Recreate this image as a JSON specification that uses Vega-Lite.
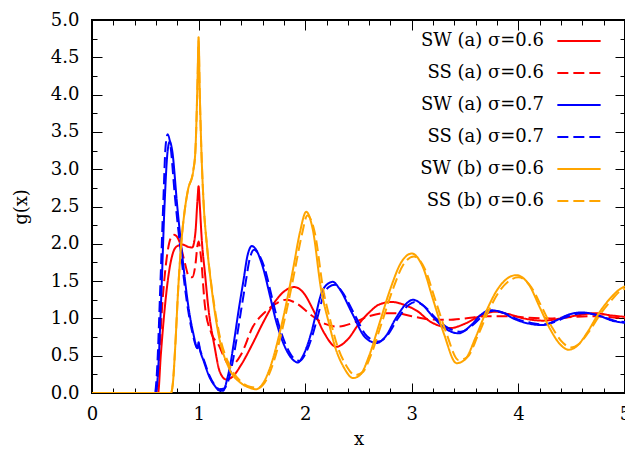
{
  "$schema": "https://vega.github.io/schema/vega-lite/v6.json",
  "width": 533,
  "height": 373,
  "autosize": {"type": "none"},
  "padding": {"left": 92, "top": 20, "right": 0, "bottom": 62},
  "background": "white",
  "config": {
    "view": {"stroke": "black", "strokeWidth": 2},
    "font": "DejaVu Serif"
  },
  "data": {"values": [
    {"s":"SW (a) σ=0.6","x":0,"y":0},{"s":"SW (a) σ=0.6","x":0.62,"y":0},{"s":"SW (a) σ=0.6","x":0.645,"y":0.5},{"s":"SW (a) σ=0.6","x":0.68,"y":1.1},{"s":"SW (a) σ=0.6","x":0.72,"y":1.6},{"s":"SW (a) σ=0.6","x":0.76,"y":1.88},{"s":"SW (a) σ=0.6","x":0.8,"y":1.97},{"s":"SW (a) σ=0.6","x":0.85,"y":1.99},{"s":"SW (a) σ=0.6","x":0.9,"y":1.96},{"s":"SW (a) σ=0.6","x":0.94,"y":1.95},{"s":"SW (a) σ=0.6","x":0.97,"y":2.15},{"s":"SW (a) σ=0.6","x":0.99,"y":2.6},{"s":"SW (a) σ=0.6","x":1.0,"y":2.77},{"s":"SW (a) σ=0.6","x":1.01,"y":2.55},{"s":"SW (a) σ=0.6","x":1.03,"y":2.05},{"s":"SW (a) σ=0.6","x":1.06,"y":1.6},{"s":"SW (a) σ=0.6","x":1.09,"y":1.16},{"s":"SW (a) σ=0.6","x":1.15,"y":0.62},{"s":"SW (a) σ=0.6","x":1.2,"y":0.28},{"s":"SW (a) σ=0.6","x":1.26,"y":0.18},{"s":"SW (a) σ=0.6","x":1.32,"y":0.22},{"s":"SW (a) σ=0.6","x":1.4,"y":0.38},{"s":"SW (a) σ=0.6","x":1.51,"y":0.67},{"s":"SW (a) σ=0.6","x":1.6,"y":0.93},{"s":"SW (a) σ=0.6","x":1.73,"y":1.25},{"s":"SW (a) σ=0.6","x":1.82,"y":1.38},{"s":"SW (a) σ=0.6","x":1.9,"y":1.42},{"s":"SW (a) σ=0.6","x":1.98,"y":1.35},{"s":"SW (a) σ=0.6","x":2.08,"y":1.1},{"s":"SW (a) σ=0.6","x":2.18,"y":0.8},{"s":"SW (a) σ=0.6","x":2.29,"y":0.62},{"s":"SW (a) σ=0.6","x":2.4,"y":0.72},{"s":"SW (a) σ=0.6","x":2.5,"y":0.92},{"s":"SW (a) σ=0.6","x":2.6,"y":1.08},{"s":"SW (a) σ=0.6","x":2.7,"y":1.19},{"s":"SW (a) σ=0.6","x":2.81,"y":1.22},{"s":"SW (a) σ=0.6","x":2.95,"y":1.17},{"s":"SW (a) σ=0.6","x":3.05,"y":1.1},{"s":"SW (a) σ=0.6","x":3.17,"y":0.96},{"s":"SW (a) σ=0.6","x":3.26,"y":0.9},{"s":"SW (a) σ=0.6","x":3.36,"y":0.87},{"s":"SW (a) σ=0.6","x":3.5,"y":0.93},{"s":"SW (a) σ=0.6","x":3.65,"y":1.04},{"s":"SW (a) σ=0.6","x":3.78,"y":1.09},{"s":"SW (a) σ=0.6","x":3.9,"y":1.06},{"s":"SW (a) σ=0.6","x":4.05,"y":1.0},{"s":"SW (a) σ=0.6","x":4.23,"y":0.97},{"s":"SW (a) σ=0.6","x":4.4,"y":1.0},{"s":"SW (a) σ=0.6","x":4.55,"y":1.04},{"s":"SW (a) σ=0.6","x":4.72,"y":1.07},{"s":"SW (a) σ=0.6","x":4.87,"y":1.04},{"s":"SW (a) σ=0.6","x":5.0,"y":1.02},

    {"s":"SS (a) σ=0.6","x":0,"y":0},{"s":"SS (a) σ=0.6","x":0.6,"y":0},{"s":"SS (a) σ=0.6","x":0.63,"y":0.5},{"s":"SS (a) σ=0.6","x":0.66,"y":1.2},{"s":"SS (a) σ=0.6","x":0.7,"y":1.8},{"s":"SS (a) σ=0.6","x":0.74,"y":2.08},{"s":"SS (a) σ=0.6","x":0.77,"y":2.12},{"s":"SS (a) σ=0.6","x":0.82,"y":2.03},{"s":"SS (a) σ=0.6","x":0.87,"y":1.75},{"s":"SS (a) σ=0.6","x":0.91,"y":1.56},{"s":"SS (a) σ=0.6","x":0.94,"y":1.55},{"s":"SS (a) σ=0.6","x":0.97,"y":1.72},{"s":"SS (a) σ=0.6","x":0.99,"y":1.98},{"s":"SS (a) σ=0.6","x":1.0,"y":2.03},{"s":"SS (a) σ=0.6","x":1.02,"y":1.85},{"s":"SS (a) σ=0.6","x":1.06,"y":1.16},{"s":"SS (a) σ=0.6","x":1.12,"y":0.8},{"s":"SS (a) σ=0.6","x":1.19,"y":0.64},{"s":"SS (a) σ=0.6","x":1.24,"y":0.48},{"s":"SS (a) σ=0.6","x":1.29,"y":0.37},{"s":"SS (a) σ=0.6","x":1.34,"y":0.4},{"s":"SS (a) σ=0.6","x":1.4,"y":0.52},{"s":"SS (a) σ=0.6","x":1.51,"y":0.89},{"s":"SS (a) σ=0.6","x":1.62,"y":1.08},{"s":"SS (a) σ=0.6","x":1.73,"y":1.2},{"s":"SS (a) σ=0.6","x":1.82,"y":1.25},{"s":"SS (a) σ=0.6","x":1.92,"y":1.2},{"s":"SS (a) σ=0.6","x":2.05,"y":1.05},{"s":"SS (a) σ=0.6","x":2.18,"y":0.93},{"s":"SS (a) σ=0.6","x":2.31,"y":0.89},{"s":"SS (a) σ=0.6","x":2.45,"y":0.94},{"s":"SS (a) σ=0.6","x":2.6,"y":1.03},{"s":"SS (a) σ=0.6","x":2.75,"y":1.07},{"s":"SS (a) σ=0.6","x":2.85,"y":1.07},{"s":"SS (a) σ=0.6","x":3.0,"y":1.03},{"s":"SS (a) σ=0.6","x":3.15,"y":0.99},{"s":"SS (a) σ=0.6","x":3.33,"y":0.98},{"s":"SS (a) σ=0.6","x":3.5,"y":1.0},{"s":"SS (a) σ=0.6","x":3.7,"y":1.03},{"s":"SS (a) σ=0.6","x":3.9,"y":1.03},{"s":"SS (a) σ=0.6","x":4.1,"y":1.01},{"s":"SS (a) σ=0.6","x":4.3,"y":1.0},{"s":"SS (a) σ=0.6","x":4.5,"y":1.02},{"s":"SS (a) σ=0.6","x":4.7,"y":1.03},{"s":"SS (a) σ=0.6","x":4.85,"y":1.02},{"s":"SS (a) σ=0.6","x":5.0,"y":1.0},

    {"s":"SW (a) σ=0.7","x":0,"y":0},{"s":"SW (a) σ=0.7","x":0.6,"y":0},{"s":"SW (a) σ=0.7","x":0.62,"y":0.3},{"s":"SW (a) σ=0.7","x":0.65,"y":1.3},{"s":"SW (a) σ=0.7","x":0.68,"y":2.5},{"s":"SW (a) σ=0.7","x":0.71,"y":3.25},{"s":"SW (a) σ=0.7","x":0.73,"y":3.37},{"s":"SW (a) σ=0.7","x":0.75,"y":3.27},{"s":"SW (a) σ=0.7","x":0.8,"y":2.5},{"s":"SW (a) σ=0.7","x":0.85,"y":1.8},{"s":"SW (a) σ=0.7","x":0.9,"y":1.2},{"s":"SW (a) σ=0.7","x":0.95,"y":0.8},{"s":"SW (a) σ=0.7","x":0.99,"y":0.6},{"s":"SW (a) σ=0.7","x":1.0,"y":0.68},{"s":"SW (a) σ=0.7","x":1.01,"y":0.6},{"s":"SW (a) σ=0.7","x":1.05,"y":0.42},{"s":"SW (a) σ=0.7","x":1.1,"y":0.22},{"s":"SW (a) σ=0.7","x":1.15,"y":0.1},{"s":"SW (a) σ=0.7","x":1.2,"y":0.03},{"s":"SW (a) σ=0.7","x":1.23,"y":0.03},{"s":"SW (a) σ=0.7","x":1.27,"y":0.2},{"s":"SW (a) σ=0.7","x":1.3,"y":0.4},{"s":"SW (a) σ=0.7","x":1.33,"y":0.67},{"s":"SW (a) σ=0.7","x":1.38,"y":1.15},{"s":"SW (a) σ=0.7","x":1.42,"y":1.5},{"s":"SW (a) σ=0.7","x":1.46,"y":1.85},{"s":"SW (a) σ=0.7","x":1.5,"y":1.97},{"s":"SW (a) σ=0.7","x":1.53,"y":1.94},{"s":"SW (a) σ=0.7","x":1.6,"y":1.7},{"s":"SW (a) σ=0.7","x":1.67,"y":1.3},{"s":"SW (a) σ=0.7","x":1.72,"y":1.0},{"s":"SW (a) σ=0.7","x":1.8,"y":0.65},{"s":"SW (a) σ=0.7","x":1.87,"y":0.47},{"s":"SW (a) σ=0.7","x":1.93,"y":0.41},{"s":"SW (a) σ=0.7","x":1.98,"y":0.5},{"s":"SW (a) σ=0.7","x":2.045,"y":0.75},{"s":"SW (a) σ=0.7","x":2.1,"y":1.05},{"s":"SW (a) σ=0.7","x":2.15,"y":1.33},{"s":"SW (a) σ=0.7","x":2.2,"y":1.45},{"s":"SW (a) σ=0.7","x":2.26,"y":1.49},{"s":"SW (a) σ=0.7","x":2.32,"y":1.4},{"s":"SW (a) σ=0.7","x":2.44,"y":1.07},{"s":"SW (a) σ=0.7","x":2.56,"y":0.75},{"s":"SW (a) σ=0.7","x":2.67,"y":0.67},{"s":"SW (a) σ=0.7","x":2.75,"y":0.75},{"s":"SW (a) σ=0.7","x":2.85,"y":1.0},{"s":"SW (a) σ=0.7","x":2.95,"y":1.2},{"s":"SW (a) σ=0.7","x":3.01,"y":1.25},{"s":"SW (a) σ=0.7","x":3.1,"y":1.18},{"s":"SW (a) σ=0.7","x":3.2,"y":1.02},{"s":"SW (a) σ=0.7","x":3.3,"y":0.88},{"s":"SW (a) σ=0.7","x":3.44,"y":0.8},{"s":"SW (a) σ=0.7","x":3.55,"y":0.9},{"s":"SW (a) σ=0.7","x":3.65,"y":1.05},{"s":"SW (a) σ=0.7","x":3.73,"y":1.11},{"s":"SW (a) σ=0.7","x":3.85,"y":1.08},{"s":"SW (a) σ=0.7","x":3.95,"y":1.0},{"s":"SW (a) σ=0.7","x":4.1,"y":0.93},{"s":"SW (a) σ=0.7","x":4.22,"y":0.91},{"s":"SW (a) σ=0.7","x":4.35,"y":0.97},{"s":"SW (a) σ=0.7","x":4.47,"y":1.05},{"s":"SW (a) σ=0.7","x":4.59,"y":1.08},{"s":"SW (a) σ=0.7","x":4.75,"y":1.04},{"s":"SW (a) σ=0.7","x":4.88,"y":0.97},{"s":"SW (a) σ=0.7","x":5.0,"y":0.94},

    {"s":"SS (a) σ=0.7","x":0,"y":0},{"s":"SS (a) σ=0.7","x":0.59,"y":0},{"s":"SS (a) σ=0.7","x":0.61,"y":0.3},{"s":"SS (a) σ=0.7","x":0.64,"y":1.4},{"s":"SS (a) σ=0.7","x":0.67,"y":2.6},{"s":"SS (a) σ=0.7","x":0.69,"y":3.3},{"s":"SS (a) σ=0.7","x":0.71,"y":3.47},{"s":"SS (a) σ=0.7","x":0.73,"y":3.38},{"s":"SS (a) σ=0.7","x":0.78,"y":2.6},{"s":"SS (a) σ=0.7","x":0.84,"y":1.8},{"s":"SS (a) σ=0.7","x":0.89,"y":1.22},{"s":"SS (a) σ=0.7","x":0.94,"y":0.82},{"s":"SS (a) σ=0.7","x":0.99,"y":0.6},{"s":"SS (a) σ=0.7","x":1.0,"y":0.66},{"s":"SS (a) σ=0.7","x":1.01,"y":0.6},{"s":"SS (a) σ=0.7","x":1.05,"y":0.44},{"s":"SS (a) σ=0.7","x":1.1,"y":0.24},{"s":"SS (a) σ=0.7","x":1.15,"y":0.11},{"s":"SS (a) σ=0.7","x":1.2,"y":0.05},{"s":"SS (a) σ=0.7","x":1.24,"y":0.06},{"s":"SS (a) σ=0.7","x":1.29,"y":0.22},{"s":"SS (a) σ=0.7","x":1.32,"y":0.42},{"s":"SS (a) σ=0.7","x":1.35,"y":0.67},{"s":"SS (a) σ=0.7","x":1.4,"y":1.12},{"s":"SS (a) σ=0.7","x":1.44,"y":1.47},{"s":"SS (a) σ=0.7","x":1.48,"y":1.8},{"s":"SS (a) σ=0.7","x":1.52,"y":1.92},{"s":"SS (a) σ=0.7","x":1.55,"y":1.89},{"s":"SS (a) σ=0.7","x":1.62,"y":1.67},{"s":"SS (a) σ=0.7","x":1.69,"y":1.27},{"s":"SS (a) σ=0.7","x":1.74,"y":0.98},{"s":"SS (a) σ=0.7","x":1.82,"y":0.64},{"s":"SS (a) σ=0.7","x":1.89,"y":0.47},{"s":"SS (a) σ=0.7","x":1.95,"y":0.43},{"s":"SS (a) σ=0.7","x":2.0,"y":0.52},{"s":"SS (a) σ=0.7","x":2.065,"y":0.76},{"s":"SS (a) σ=0.7","x":2.12,"y":1.04},{"s":"SS (a) σ=0.7","x":2.17,"y":1.3},{"s":"SS (a) σ=0.7","x":2.22,"y":1.42},{"s":"SS (a) σ=0.7","x":2.28,"y":1.45},{"s":"SS (a) σ=0.7","x":2.34,"y":1.37},{"s":"SS (a) σ=0.7","x":2.46,"y":1.06},{"s":"SS (a) σ=0.7","x":2.58,"y":0.76},{"s":"SS (a) σ=0.7","x":2.69,"y":0.69},{"s":"SS (a) σ=0.7","x":2.77,"y":0.77},{"s":"SS (a) σ=0.7","x":2.87,"y":1.0},{"s":"SS (a) σ=0.7","x":2.97,"y":1.18},{"s":"SS (a) σ=0.7","x":3.03,"y":1.22},{"s":"SS (a) σ=0.7","x":3.12,"y":1.16},{"s":"SS (a) σ=0.7","x":3.22,"y":1.01},{"s":"SS (a) σ=0.7","x":3.32,"y":0.89},{"s":"SS (a) σ=0.7","x":3.46,"y":0.82},{"s":"SS (a) σ=0.7","x":3.57,"y":0.91},{"s":"SS (a) σ=0.7","x":3.67,"y":1.04},{"s":"SS (a) σ=0.7","x":3.75,"y":1.1},{"s":"SS (a) σ=0.7","x":3.87,"y":1.07},{"s":"SS (a) σ=0.7","x":3.97,"y":1.0},{"s":"SS (a) σ=0.7","x":4.12,"y":0.94},{"s":"SS (a) σ=0.7","x":4.24,"y":0.92},{"s":"SS (a) σ=0.7","x":4.37,"y":0.97},{"s":"SS (a) σ=0.7","x":4.49,"y":1.04},{"s":"SS (a) σ=0.7","x":4.61,"y":1.07},{"s":"SS (a) σ=0.7","x":4.77,"y":1.03},{"s":"SS (a) σ=0.7","x":4.9,"y":0.97},{"s":"SS (a) σ=0.7","x":5.0,"y":0.95},

    {"s":"SW (b) σ=0.6","x":0,"y":0},{"s":"SW (b) σ=0.6","x":0.74,"y":0},{"s":"SW (b) σ=0.6","x":0.76,"y":0.15},{"s":"SW (b) σ=0.6","x":0.78,"y":0.6},{"s":"SW (b) σ=0.6","x":0.81,"y":1.43},{"s":"SW (b) σ=0.6","x":0.84,"y":2.05},{"s":"SW (b) σ=0.6","x":0.87,"y":2.45},{"s":"SW (b) σ=0.6","x":0.9,"y":2.72},{"s":"SW (b) σ=0.6","x":0.95,"y":2.98},{"s":"SW (b) σ=0.6","x":0.97,"y":3.25},{"s":"SW (b) σ=0.6","x":0.99,"y":4.2},{"s":"SW (b) σ=0.6","x":1.0,"y":4.77},{"s":"SW (b) σ=0.6","x":1.01,"y":4.1},{"s":"SW (b) σ=0.6","x":1.025,"y":3.3},{"s":"SW (b) σ=0.6","x":1.045,"y":2.6},{"s":"SW (b) σ=0.6","x":1.08,"y":1.95},{"s":"SW (b) σ=0.6","x":1.12,"y":1.43},{"s":"SW (b) σ=0.6","x":1.185,"y":0.8},{"s":"SW (b) σ=0.6","x":1.28,"y":0.35},{"s":"SW (b) σ=0.6","x":1.4,"y":0.13},{"s":"SW (b) σ=0.6","x":1.48,"y":0.07},{"s":"SW (b) σ=0.6","x":1.54,"y":0.05},{"s":"SW (b) σ=0.6","x":1.6,"y":0.12},{"s":"SW (b) σ=0.6","x":1.68,"y":0.38},{"s":"SW (b) σ=0.6","x":1.76,"y":0.8},{"s":"SW (b) σ=0.6","x":1.83,"y":1.25},{"s":"SW (b) σ=0.6","x":1.89,"y":1.69},{"s":"SW (b) σ=0.6","x":1.95,"y":2.15},{"s":"SW (b) σ=0.6","x":2.01,"y":2.43},{"s":"SW (b) σ=0.6","x":2.07,"y":2.2},{"s":"SW (b) σ=0.6","x":2.15,"y":1.38},{"s":"SW (b) σ=0.6","x":2.22,"y":0.95},{"s":"SW (b) σ=0.6","x":2.28,"y":0.62},{"s":"SW (b) σ=0.6","x":2.36,"y":0.35},{"s":"SW (b) σ=0.6","x":2.45,"y":0.2},{"s":"SW (b) σ=0.6","x":2.52,"y":0.25},{"s":"SW (b) σ=0.6","x":2.6,"y":0.5},{"s":"SW (b) σ=0.6","x":2.7,"y":0.95},{"s":"SW (b) σ=0.6","x":2.8,"y":1.4},{"s":"SW (b) σ=0.6","x":2.9,"y":1.75},{"s":"SW (b) σ=0.6","x":3.0,"y":1.87},{"s":"SW (b) σ=0.6","x":3.1,"y":1.7},{"s":"SW (b) σ=0.6","x":3.2,"y":1.25},{"s":"SW (b) σ=0.6","x":3.3,"y":0.8},{"s":"SW (b) σ=0.6","x":3.42,"y":0.4},{"s":"SW (b) σ=0.6","x":3.5,"y":0.45},{"s":"SW (b) σ=0.6","x":3.6,"y":0.75},{"s":"SW (b) σ=0.6","x":3.7,"y":1.1},{"s":"SW (b) σ=0.6","x":3.8,"y":1.38},{"s":"SW (b) σ=0.6","x":3.9,"y":1.54},{"s":"SW (b) σ=0.6","x":3.98,"y":1.58},{"s":"SW (b) σ=0.6","x":4.1,"y":1.45},{"s":"SW (b) σ=0.6","x":4.2,"y":1.15},{"s":"SW (b) σ=0.6","x":4.3,"y":0.85},{"s":"SW (b) σ=0.6","x":4.4,"y":0.64},{"s":"SW (b) σ=0.6","x":4.47,"y":0.58},{"s":"SW (b) σ=0.6","x":4.55,"y":0.63},{"s":"SW (b) σ=0.6","x":4.65,"y":0.82},{"s":"SW (b) σ=0.6","x":4.75,"y":1.06},{"s":"SW (b) σ=0.6","x":4.85,"y":1.25},{"s":"SW (b) σ=0.6","x":4.95,"y":1.39},{"s":"SW (b) σ=0.6","x":5.0,"y":1.43},

    {"s":"SS (b) σ=0.6","x":0,"y":0},{"s":"SS (b) σ=0.6","x":0.74,"y":0},{"s":"SS (b) σ=0.6","x":0.76,"y":0.15},{"s":"SS (b) σ=0.6","x":0.78,"y":0.6},{"s":"SS (b) σ=0.6","x":0.81,"y":1.43},{"s":"SS (b) σ=0.6","x":0.84,"y":2.05},{"s":"SS (b) σ=0.6","x":0.87,"y":2.45},{"s":"SS (b) σ=0.6","x":0.9,"y":2.72},{"s":"SS (b) σ=0.6","x":0.95,"y":2.98},{"s":"SS (b) σ=0.6","x":0.97,"y":3.25},{"s":"SS (b) σ=0.6","x":0.99,"y":4.15},{"s":"SS (b) σ=0.6","x":1.0,"y":4.72},{"s":"SS (b) σ=0.6","x":1.01,"y":4.05},{"s":"SS (b) σ=0.6","x":1.025,"y":3.3},{"s":"SS (b) σ=0.6","x":1.045,"y":2.6},{"s":"SS (b) σ=0.6","x":1.08,"y":1.95},{"s":"SS (b) σ=0.6","x":1.12,"y":1.45},{"s":"SS (b) σ=0.6","x":1.19,"y":0.82},{"s":"SS (b) σ=0.6","x":1.29,"y":0.37},{"s":"SS (b) σ=0.6","x":1.4,"y":0.15},{"s":"SS (b) σ=0.6","x":1.49,"y":0.08},{"s":"SS (b) σ=0.6","x":1.56,"y":0.07},{"s":"SS (b) σ=0.6","x":1.62,"y":0.14},{"s":"SS (b) σ=0.6","x":1.7,"y":0.4},{"s":"SS (b) σ=0.6","x":1.78,"y":0.82},{"s":"SS (b) σ=0.6","x":1.85,"y":1.27},{"s":"SS (b) σ=0.6","x":1.91,"y":1.7},{"s":"SS (b) σ=0.6","x":1.97,"y":2.13},{"s":"SS (b) σ=0.6","x":2.02,"y":2.38},{"s":"SS (b) σ=0.6","x":2.09,"y":2.15},{"s":"SS (b) σ=0.6","x":2.17,"y":1.38},{"s":"SS (b) σ=0.6","x":2.24,"y":0.95},{"s":"SS (b) σ=0.6","x":2.3,"y":0.64},{"s":"SS (b) σ=0.6","x":2.38,"y":0.38},{"s":"SS (b) σ=0.6","x":2.47,"y":0.24},{"s":"SS (b) σ=0.6","x":2.54,"y":0.28},{"s":"SS (b) σ=0.6","x":2.62,"y":0.52},{"s":"SS (b) σ=0.6","x":2.72,"y":0.95},{"s":"SS (b) σ=0.6","x":2.82,"y":1.38},{"s":"SS (b) σ=0.6","x":2.92,"y":1.72},{"s":"SS (b) σ=0.6","x":3.02,"y":1.83},{"s":"SS (b) σ=0.6","x":3.12,"y":1.67},{"s":"SS (b) σ=0.6","x":3.22,"y":1.25},{"s":"SS (b) σ=0.6","x":3.32,"y":0.82},{"s":"SS (b) σ=0.6","x":3.44,"y":0.44},{"s":"SS (b) σ=0.6","x":3.52,"y":0.48},{"s":"SS (b) σ=0.6","x":3.62,"y":0.77},{"s":"SS (b) σ=0.6","x":3.72,"y":1.1},{"s":"SS (b) σ=0.6","x":3.82,"y":1.36},{"s":"SS (b) σ=0.6","x":3.92,"y":1.51},{"s":"SS (b) σ=0.6","x":4.0,"y":1.55},{"s":"SS (b) σ=0.6","x":4.12,"y":1.42},{"s":"SS (b) σ=0.6","x":4.22,"y":1.15},{"s":"SS (b) σ=0.6","x":4.32,"y":0.87},{"s":"SS (b) σ=0.6","x":4.42,"y":0.67},{"s":"SS (b) σ=0.6","x":4.49,"y":0.61},{"s":"SS (b) σ=0.6","x":4.57,"y":0.66},{"s":"SS (b) σ=0.6","x":4.67,"y":0.84},{"s":"SS (b) σ=0.6","x":4.77,"y":1.06},{"s":"SS (b) σ=0.6","x":4.87,"y":1.24},{"s":"SS (b) σ=0.6","x":4.96,"y":1.37},{"s":"SS (b) σ=0.6","x":5.0,"y":1.4}
  ]},
  "mark": {"type": "line", "interpolate": "monotone", "strokeWidth": 2, "clip": true},
  "encoding": {
    "x": {
      "field": "x", "type": "quantitative",
      "scale": {"domain": [0, 5], "nice": false, "zero": false},
      "axis": {
        "title": "x",
        "values": [0,0.2,0.4,0.6,0.8,1,1.2,1.4,1.6,1.8,2,2.2,2.4,2.6,2.8,3,3.2,3.4,3.6,3.8,4,4.2,4.4,4.6,4.8,5],
        "labelExpr": "datum.value % 1 === 0 ? format(datum.value, 'd') : ''",
        "labelFlush": false, "labelOverlap": false,
        "labelFont": "DejaVu Serif", "labelFontSize": 18, "labelColor": "black", "labelPadding": 12,
        "ticks": false, "tickSize": 0, "domain": false,
        "grid": true, "gridColor": "black", "gridWidth": 1, "gridOpacity": 1,
        "gridDash": {"condition": {"test": "datum.value % 1 === 0", "value": [10, 353, 10]}, "value": [5, 363, 5]},
        "titleFont": "DejaVu Serif", "titleFontSize": 18, "titleFontWeight": "normal", "titleColor": "black", "titlePadding": 7
      }
    },
    "y": {
      "field": "y", "type": "quantitative",
      "scale": {"domain": [0, 5], "nice": false, "zero": false},
      "axis": {
        "title": "g(x)",
        "values": [0,0.25,0.5,0.75,1,1.25,1.5,1.75,2,2.25,2.5,2.75,3,3.25,3.5,3.75,4,4.25,4.5,4.75,5],
        "labelExpr": "datum.value % 0.5 === 0 ? format(datum.value, '.1f') : ''",
        "labelFlush": false, "labelOverlap": false,
        "labelFont": "DejaVu Serif", "labelFontSize": 18, "labelColor": "black", "labelPadding": 13,
        "ticks": false, "tickSize": 0, "domain": false,
        "grid": true, "gridColor": "black", "gridWidth": 1, "gridOpacity": 1,
        "gridDash": {"condition": {"test": "datum.value % 0.5 === 0", "value": [10, 513, 10]}, "value": [5, 523, 5]},
        "titleFont": "DejaVu Serif", "titleFontSize": 18, "titleFontWeight": "normal", "titleColor": "black", "titlePadding": 20
      }
    },
    "color": {
      "field": "s", "type": "nominal",
      "scale": {
        "domain": ["SW (a) σ=0.6", "SS (a) σ=0.6", "SW (a) σ=0.7", "SS (a) σ=0.7", "SW (b) σ=0.6", "SS (b) σ=0.6"],
        "range": ["#ff0000", "#ff0000", "#0000ff", "#0000ff", "#ffa500", "#ffa500"]
      },
      "legend": {
        "title": null, "orient": "none", "legendX": 464, "legendY": -2, "padding": 0,
        "symbolType": "stroke", "symbolSize": 1875, "symbolStrokeWidth": 2,
        "labelAlign": "right", "labelOffset": -58, "labelLimit": 0,
        "labelFont": "DejaVu Serif", "labelFontSize": 18, "labelColor": "black",
        "rowPadding": -1.6
      }
    },
    "strokeDash": {
      "field": "s", "type": "nominal",
      "scale": {
        "domain": ["SW (a) σ=0.6", "SS (a) σ=0.6", "SW (a) σ=0.7", "SS (a) σ=0.7", "SW (b) σ=0.6", "SS (b) σ=0.6"],
        "range": [[1, 0], [11, 5], [1, 0], [11, 5], [1, 0], [11, 5]]
      },
      "legend": {
        "title": null, "orient": "none", "legendX": 464, "legendY": -2, "padding": 0,
        "symbolType": "stroke", "symbolSize": 1875, "symbolStrokeWidth": 2,
        "labelAlign": "right", "labelOffset": -58, "labelLimit": 0,
        "labelFont": "DejaVu Serif", "labelFontSize": 18, "labelColor": "black",
        "rowPadding": -1.6
      }
    }
  }
}
